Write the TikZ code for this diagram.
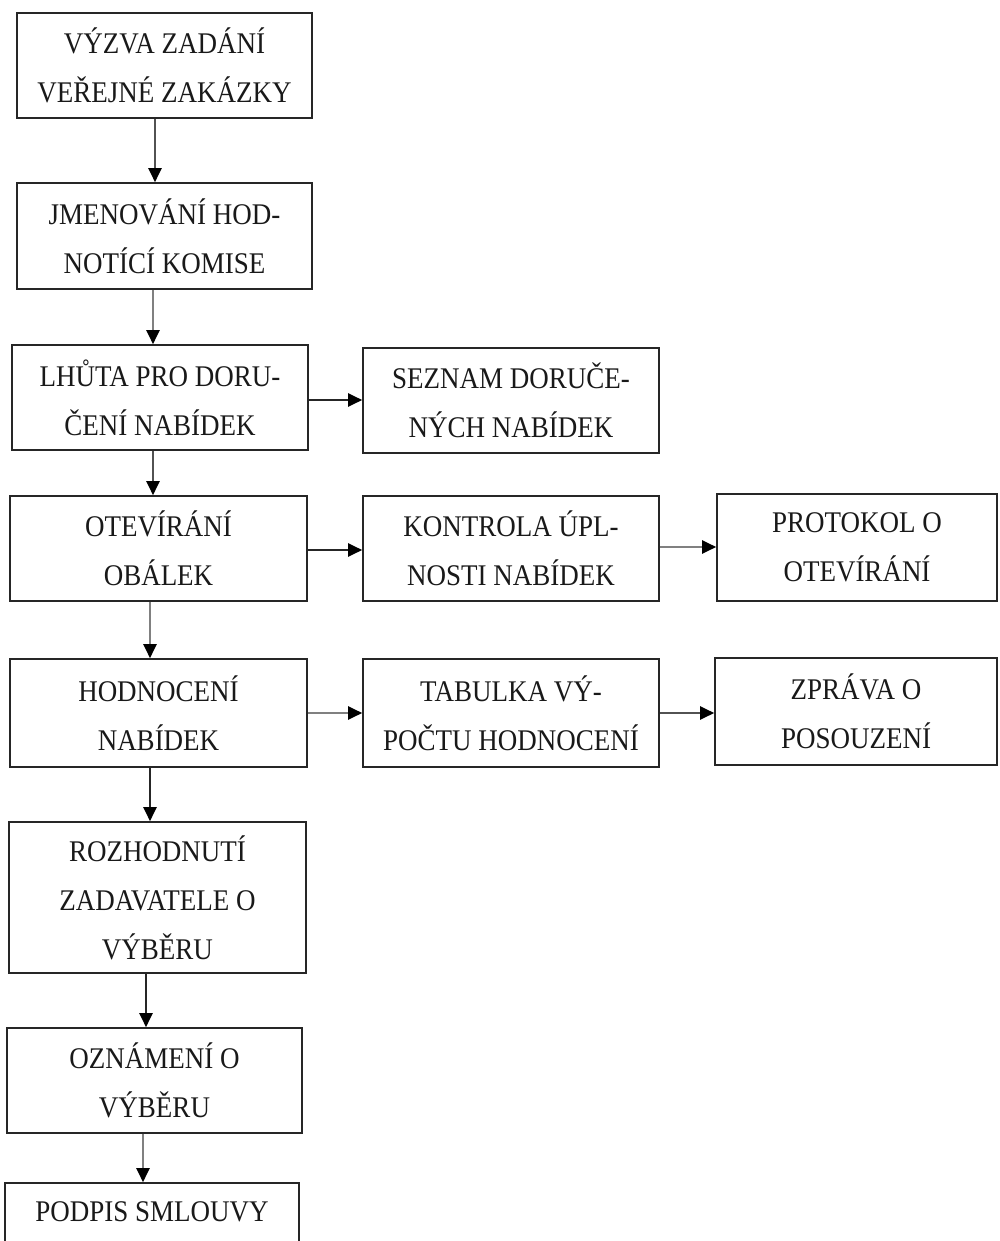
\documentclass[tikz,border=0pt]{standalone}
\usepackage{fontspec}
\setmainfont{Liberation Serif}[FakeStretch=0.9]
\usetikzlibrary{arrows.meta}
\begin{document}
\begin{tikzpicture}[x=1pt,y=-1pt,
  box/.style={draw=black!85, line width=1.6pt, align=center, inner sep=0pt,
    font=\fontsize{30}{49}\selectfont, text=black!90},
  arr/.style={line width=2pt, draw=black!85, -{Triangle[length=14pt,width=13pt,color=black]}},
  arrg/.style={line width=2pt, draw=black!50, -{Triangle[length=14pt,width=13pt,color=black]}},
  arrd/.style={line width=2pt, draw=black!68, -{Triangle[length=14pt,width=13pt,color=black]}}]
\clip (0,0) rectangle (999,1241);
\fill[white] (0,0) rectangle (999,1241);
\node[box, minimum width=295, minimum height=105] (b1) at (164.5,65.5) {VÝZVA ZADÁNÍ\\VEŘEJNÉ ZAKÁZKY};
\node[box, minimum width=295, minimum height=106] (b2) at (164.5,236) {JMENOVÁNÍ HOD-\\NOTÍCÍ KOMISE};
\node[box, minimum width=296, minimum height=105] (b3) at (160,397.5) {LHŮTA PRO DORU-\\ČENÍ NABÍDEK};
\node[box, minimum width=296, minimum height=105] (b4) at (511,400.5) {SEZNAM DORUČE-\\NÝCH NABÍDEK};
\node[box, minimum width=297, minimum height=105] (b5) at (158.5,548.5) {OTEVÍRÁNÍ\\OBÁLEK};
\node[box, minimum width=296, minimum height=105] (b6) at (511,548.5) {KONTROLA ÚPL-\\NOSTI NABÍDEK};
\node[box, minimum width=280, minimum height=107] (b7) at (857,547.5) {PROTOKOL O\\OTEVÍRÁNÍ};
\node[box, minimum width=297, minimum height=108] (b8) at (158.5,713) {HODNOCENÍ\\NABÍDEK};
\node[box, minimum width=296, minimum height=108] (b9) at (511,713) {TABULKA VÝ-\\POČTU HODNOCENÍ};
\node[box, minimum width=282, minimum height=107] (b10) at (856,711.5) {ZPRÁVA O\\POSOUZENÍ};
\node[box, minimum width=297, minimum height=151] (b11) at (157.5,897.5) {ROZHODNUTÍ\\ZADAVATELE O\\VÝBĚRU};
\node[box, minimum width=295, minimum height=105] (b12) at (154.5,1080.5) {OZNÁMENÍ O\\VÝBĚRU};
\node[box, minimum width=294, minimum height=107] (b13) at (152,1236.5) {PODPIS SMLOUVY\\\mbox{}};
% vertical connectors
\draw[arrd] ([xshift=-9.5]b1.south) -- ([xshift=-9.5]b2.north);
\draw[arrg] ([xshift=-11.5]b2.south) -- ([xshift=-7]b3.north);
\draw[arrd] ([xshift=-7]b3.south) -- ([xshift=-5.5]b5.north);
\draw[arrg] ([xshift=-8.5]b5.south) -- ([xshift=-8.5]b8.north);
\draw[arr] ([xshift=-8.5]b8.south) -- ([xshift=-7.5]b11.north);
\draw[arr] ([xshift=-11.5]b11.south) -- ([xshift=-8.5]b12.north);
\draw[arrg] ([xshift=-11.5]b12.south) -- ([xshift=-9]b13.north);
% horizontal connectors
\draw[arr] ([yshift=-2.5]b3.east) -- ([yshift=0.5]b4.west);
\draw[arr] ([yshift=-1.5]b5.east) -- ([yshift=-1.5]b6.west);
\draw[arrg] ([yshift=1.5]b6.east) -- ([yshift=0.5]b7.west);
\draw[arrg] (b8.east) -- (b9.west);
\draw[arrd] (b9.east) -- ([yshift=-1.5]b10.west);
\end{tikzpicture}
\end{document}
